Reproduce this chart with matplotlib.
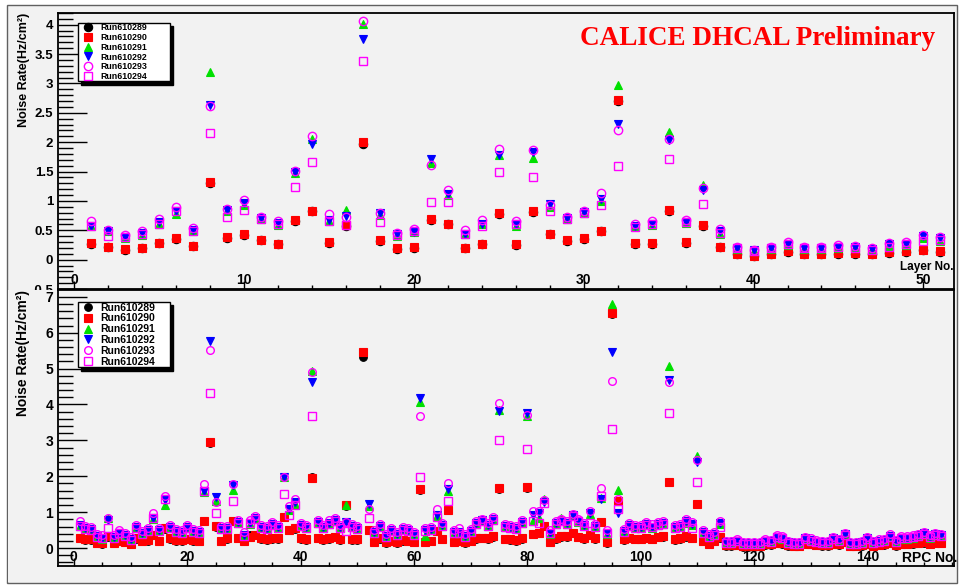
import matplotlib
matplotlib.use('Agg')
import matplotlib.pyplot as plt
from matplotlib.patches import Rectangle
from matplotlib.ticker import MultipleLocator, FuncFormatter

# ---------------- data ----------------
runs = ['Run610289', 'Run610290', 'Run610291', 'Run610292', 'Run610293', 'Run610294']
layers = list(range(1, 52))
rpcs = list(range(1, 154))

layer_610289 = [0.27,0.21,0.17,0.19,0.28,0.35,0.23,1.31,0.37,0.42,
                0.33,0.26,0.66,0.82,0.29,0.58,1.97,0.32,0.18,0.20,
                0.68,0.60,0.19,0.26,0.77,0.25,0.81,0.43,0.32,0.35,
                0.48,2.70,0.27,0.27,0.83,0.29,0.58,0.21,0.09,0.06,
                0.09,0.13,0.09,0.09,0.10,0.09,0.09,0.12,0.13,0.16,
                0.13]
layer_610290 = [0.28,0.22,0.18,0.20,0.29,0.36,0.24,1.33,0.38,0.43,
                0.34,0.27,0.67,0.83,0.30,0.59,2.00,0.33,0.19,0.21,
                0.70,0.61,0.20,0.27,0.79,0.26,0.82,0.44,0.33,0.36,
                0.49,2.71,0.28,0.28,0.84,0.30,0.59,0.22,0.10,0.07,
                0.10,0.14,0.10,0.10,0.11,0.11,0.10,0.13,0.14,0.17,
                0.14]
layer_610291 = [0.57,0.48,0.37,0.42,0.61,0.78,0.49,3.19,0.82,0.93,
                0.69,0.59,1.47,2.05,0.66,0.84,4.01,0.76,0.41,0.47,
                1.65,1.10,0.43,0.60,1.79,0.58,1.73,0.90,0.70,0.80,
                1.00,2.98,0.57,0.59,2.17,0.62,1.27,0.44,0.18,0.14,
                0.18,0.25,0.18,0.18,0.20,0.20,0.17,0.24,0.25,0.37,
                0.31]
layer_610292 = [0.58,0.49,0.39,0.45,0.64,0.82,0.51,2.63,0.85,0.96,
                0.71,0.62,1.50,1.97,0.67,0.74,3.76,0.79,0.43,0.47,
                1.71,1.11,0.44,0.61,1.79,0.60,1.84,0.94,0.71,0.81,
                1.03,2.31,0.58,0.60,2.03,0.64,1.18,0.49,0.20,0.16,
                0.20,0.27,0.19,0.20,0.22,0.22,0.18,0.27,0.27,0.40,
                0.36]
layer_610293 = [0.65,0.51,0.42,0.48,0.70,0.90,0.54,2.62,0.86,1.01,
                0.73,0.65,1.51,2.10,0.77,0.73,4.07,0.79,0.45,0.53,
                1.61,1.19,0.51,0.68,1.88,0.65,1.86,0.93,0.73,0.82,
                1.13,2.20,0.61,0.66,2.05,0.68,1.22,0.52,0.22,0.17,
                0.22,0.30,0.22,0.22,0.25,0.24,0.20,0.28,0.30,0.42,
                0.39]
layer_610294 = [0.57,0.41,0.39,0.43,0.61,0.83,0.49,2.15,0.72,0.84,
                0.70,0.60,1.24,1.66,0.66,0.59,3.39,0.64,0.42,0.48,
                0.99,0.98,0.44,0.57,1.50,0.60,1.41,0.82,0.69,0.80,
                0.93,1.60,0.56,0.60,1.72,0.64,0.95,0.46,0.19,0.15,
                0.19,0.27,0.19,0.19,0.22,0.20,0.17,0.22,0.27,0.31,
                0.33]

rpc_610289 = [0.28,0.23,0.23,0.13,0.12,0.32,0.13,0.19,0.17,0.10,
              0.26,0.19,0.21,0.35,0.19,0.54,0.26,0.21,0.21,0.24,
              0.21,0.19,0.74,2.92,0.60,0.19,0.26,0.74,0.28,0.19,
              0.35,0.35,0.26,0.23,0.26,0.26,0.86,0.49,0.54,0.26,
              0.23,1.98,0.28,0.23,0.26,0.31,0.23,1.18,0.23,0.23,
              5.33,0.49,0.17,0.26,0.15,0.19,0.15,0.21,0.19,0.16,
              1.62,0.17,0.19,0.47,0.24,1.06,0.17,0.19,0.15,0.19,
              0.26,0.28,0.26,0.32,1.65,0.24,0.23,0.21,0.26,1.67,
              0.38,0.42,0.61,0.17,0.26,0.32,0.32,0.42,0.31,0.26,
              0.35,0.26,0.72,0.15,6.53,1.31,0.23,0.28,0.24,0.24,
              0.28,0.24,0.31,0.32,1.84,0.23,0.26,0.32,0.28,1.22,
              0.19,0.11,0.19,0.29,0.07,0.07,0.08,0.04,0.04,0.04,
              0.06,0.09,0.09,0.13,0.12,0.07,0.06,0.06,0.11,0.10,
              0.08,0.07,0.07,0.11,0.09,0.16,0.06,0.06,0.07,0.10,
              0.06,0.08,0.09,0.13,0.07,0.11,0.11,0.12,0.13,0.15,
              0.10,0.14,0.13]
rpc_610290 = [0.29,0.24,0.24,0.14,0.13,0.33,0.14,0.20,0.18,0.11,
              0.27,0.20,0.22,0.36,0.20,0.55,0.27,0.22,0.22,0.25,
              0.22,0.20,0.75,2.96,0.61,0.20,0.27,0.75,0.29,0.20,
              0.32,0.36,0.27,0.24,0.27,0.27,0.87,0.50,0.55,0.27,
              0.24,1.96,0.29,0.24,0.27,0.32,0.24,1.19,0.24,0.24,
              5.45,0.50,0.18,0.27,0.16,0.20,0.16,0.22,0.20,0.18,
              1.64,0.18,0.20,0.48,0.25,1.07,0.18,0.20,0.16,0.20,
              0.27,0.29,0.27,0.33,1.66,0.25,0.24,0.22,0.27,1.69,
              0.39,0.43,0.62,0.18,0.27,0.33,0.33,0.43,0.32,0.27,
              0.36,0.27,0.73,0.16,6.56,1.32,0.24,0.29,0.25,0.25,
              0.29,0.25,0.32,0.33,1.85,0.24,0.27,0.33,0.29,1.23,
              0.20,0.12,0.20,0.30,0.08,0.08,0.09,0.05,0.05,0.05,
              0.07,0.10,0.10,0.14,0.13,0.08,0.07,0.07,0.12,0.11,
              0.09,0.08,0.08,0.12,0.10,0.17,0.07,0.07,0.08,0.11,
              0.07,0.09,0.10,0.14,0.08,0.12,0.12,0.13,0.14,0.16,
              0.11,0.15,0.14]
rpc_610291 = [0.61,0.52,0.49,0.30,0.26,0.85,0.27,0.40,0.33,0.22,
              0.56,0.38,0.47,0.82,0.47,1.20,0.56,0.45,0.41,0.56,
              0.45,0.42,1.55,7.50,1.30,0.52,0.52,1.62,0.70,0.33,
              0.68,0.81,0.56,0.52,0.64,0.56,1.97,1.07,1.24,0.61,
              0.56,4.93,0.70,0.56,0.66,0.75,0.56,1.19,0.58,0.52,
              10.8,1.18,0.42,0.58,0.30,0.47,0.36,0.49,0.47,0.36,
              4.08,0.33,0.49,0.89,0.61,1.60,0.41,0.42,0.31,0.45,
              0.66,0.75,0.61,0.78,3.85,0.58,0.56,0.52,0.70,3.68,
              0.76,0.83,1.38,0.40,0.66,0.85,0.66,0.89,0.73,0.61,
              0.94,0.58,1.40,0.40,6.80,1.63,0.45,0.61,0.56,0.55,
              0.63,0.57,0.63,0.66,5.07,0.56,0.59,0.71,0.63,2.57,
              0.41,0.30,0.36,0.66,0.15,0.15,0.19,0.11,0.11,0.11,
              0.12,0.19,0.17,0.29,0.26,0.15,0.11,0.11,0.25,0.21,
              0.16,0.14,0.14,0.24,0.20,0.36,0.11,0.11,0.14,0.24,
              0.14,0.18,0.20,0.31,0.17,0.26,0.26,0.29,0.33,0.38,
              0.29,0.36,0.33]
rpc_610292 = [0.64,0.55,0.52,0.33,0.29,0.78,0.30,0.43,0.36,0.25,
              0.59,0.41,0.50,0.85,0.50,1.34,0.59,0.48,0.44,0.59,
              0.48,0.45,1.59,5.78,1.43,0.55,0.55,1.75,0.73,0.36,
              0.71,0.84,0.59,0.55,0.67,0.59,1.99,1.10,1.27,0.64,
              0.59,4.62,0.73,0.59,0.69,0.78,0.59,0.73,0.61,0.55,
              10.1,1.23,0.45,0.61,0.33,0.50,0.39,0.52,0.50,0.39,
              4.17,0.50,0.52,0.92,0.64,1.64,0.44,0.45,0.34,0.48,
              0.69,0.78,0.64,0.81,3.83,0.61,0.59,0.55,0.73,3.77,
              0.92,0.98,1.29,0.43,0.69,0.76,0.69,0.92,0.76,0.64,
              0.97,0.61,1.38,0.43,5.47,0.97,0.48,0.64,0.59,0.58,
              0.66,0.60,0.66,0.69,4.68,0.59,0.62,0.74,0.66,2.40,
              0.44,0.33,0.39,0.69,0.17,0.17,0.21,0.13,0.13,0.13,
              0.14,0.21,0.19,0.32,0.29,0.17,0.13,0.13,0.28,0.23,
              0.18,0.16,0.16,0.27,0.22,0.39,0.13,0.13,0.16,0.27,
              0.16,0.20,0.22,0.34,0.19,0.29,0.29,0.32,0.36,0.41,
              0.32,0.39,0.36]
rpc_610293 = [0.75,0.61,0.58,0.39,0.35,0.84,0.36,0.49,0.42,0.31,
              0.65,0.47,0.56,0.97,0.56,1.45,0.65,0.54,0.50,0.65,
              0.54,0.51,1.78,5.52,1.29,0.61,0.61,1.78,0.79,0.45,
              0.77,0.90,0.65,0.61,0.73,0.65,1.98,1.16,1.38,0.70,
              0.65,4.91,0.79,0.65,0.78,0.84,0.65,0.72,0.67,0.61,
              10.9,1.10,0.51,0.67,0.39,0.56,0.45,0.59,0.56,0.45,
              3.68,0.56,0.58,1.08,0.70,1.80,0.50,0.55,0.40,0.54,
              0.75,0.80,0.70,0.87,4.03,0.67,0.65,0.61,0.79,3.70,
              1.04,1.02,1.35,0.49,0.75,0.82,0.75,0.95,0.82,0.70,
              1.03,0.67,1.66,0.49,4.65,1.36,0.54,0.70,0.65,0.64,
              0.72,0.66,0.72,0.75,4.63,0.65,0.68,0.80,0.72,2.45,
              0.50,0.39,0.45,0.75,0.21,0.21,0.25,0.17,0.17,0.17,
              0.18,0.25,0.23,0.36,0.33,0.21,0.17,0.17,0.32,0.27,
              0.22,0.20,0.20,0.31,0.26,0.43,0.17,0.17,0.20,0.31,
              0.20,0.24,0.26,0.38,0.23,0.33,0.33,0.36,0.40,0.45,
              0.36,0.43,0.40]
rpc_610294 = [0.62,0.53,0.50,0.31,0.27,0.55,0.28,0.41,0.34,0.23,
              0.57,0.39,0.48,0.83,0.48,1.38,0.57,0.46,0.42,0.57,
              0.46,0.43,1.60,4.31,0.99,0.53,0.53,1.31,0.71,0.34,
              0.69,0.82,0.57,0.53,0.65,0.57,1.50,0.92,1.20,0.62,
              0.57,3.68,0.71,0.57,0.67,0.76,0.57,0.48,0.59,0.53,
              9.1,0.85,0.43,0.59,0.31,0.48,0.37,0.50,0.48,0.37,
              1.97,0.48,0.50,0.87,0.62,1.31,0.42,0.43,0.32,0.46,
              0.67,0.76,0.62,0.79,3.01,0.59,0.57,0.53,0.71,2.75,
              0.76,0.69,1.26,0.41,0.67,0.74,0.67,0.90,0.74,0.62,
              0.69,0.59,1.45,0.41,3.31,1.09,0.46,0.62,0.57,0.56,
              0.64,0.58,0.64,0.67,3.75,0.57,0.60,0.72,0.55,1.84,
              0.42,0.31,0.37,0.58,0.15,0.15,0.19,0.11,0.11,0.11,
              0.12,0.19,0.17,0.30,0.27,0.15,0.11,0.11,0.26,0.21,
              0.16,0.14,0.14,0.25,0.20,0.37,0.11,0.11,0.14,0.25,
              0.14,0.18,0.20,0.32,0.17,0.27,0.27,0.30,0.34,0.39,
              0.30,0.37,0.34]

layer_series = [layer_610289, layer_610290, layer_610291, layer_610292, layer_610293, layer_610294]
rpc_series = [rpc_610289, rpc_610290, rpc_610291, rpc_610292, rpc_610293, rpc_610294]

# ---------------- styling ----------------
BG = '#f2f2f2'
SANS = 'Liberation Sans'
styles = [
    dict(marker='o', mfc='black', mec='black', mew=0.8),
    dict(marker='s', mfc='#ff0000', mec='#ff0000', mew=0.8),
    dict(marker='^', mfc='#00e000', mec='#00e000', mew=0.8),
    dict(marker='v', mfc='#0000ff', mec='#0000ff', mew=0.8),
    dict(marker='o', mfc='none', mec='#ff00ff', mew=1.0),
    dict(marker='s', mfc='none', mec='#ff00ff', mew=1.0),
]

W, H = 959, 585
fig = plt.figure(figsize=(W / 100, H / 100), dpi=100, facecolor='white')

def fx(px):
    return px / W

def fy(py):
    return 1 - py / H

# outer canvas
fig.patches.append(Rectangle((fx(7), fy(583)), fx(957) - fx(7), fy(5) - fy(583),
                             transform=fig.transFigure, facecolor=BG,
                             edgecolor='#606060', lw=1.0, zorder=-1))

L, R = 58, 954
ax1 = fig.add_axes([fx(L), fy(289), fx(R) - fx(L), fy(13) - fy(289)], zorder=0)
# lower pad covering the area below the upper frame
fig.patches.append(Rectangle((fx(8), fy(582)), fx(956) - fx(8), fy(290) - fy(582),
                             transform=fig.transFigure, facecolor=BG,
                             edgecolor='none', zorder=0.5))
ax2 = fig.add_axes([fx(L), fy(566), fx(R) - fx(L), fy(290) - fy(566)], zorder=1)


def fmt(v, pos):
    s = ('%g' % round(v, 3))
    return s.replace('-', '-')


for ax, xs, series, ms, ylim, xlim, ymaj, ymin, xmaj, xmin, ylab_fs, ytick_fs in [
        (ax1, layers, layer_series, 6.0, (-0.5, 4.2), (-0.94, 51.8), 0.5, 0.1, 10, 2, 9, 9.5),
        (ax2, rpcs, rpc_series, 5.5, (-0.5, 7.19), (-2.8, 155.3), 1, 0.2, 20, 5, 10, 10)]:
    ax.set_facecolor(BG)
    for vals, st, run in zip(series, styles, runs):
        ax.plot(xs, vals, linestyle='none', ms=ms, label=run, **st)
    ax.set_xlim(*xlim)
    ax.set_ylim(*ylim)
    ax.yaxis.set_major_locator(MultipleLocator(ymaj))
    ax.yaxis.set_minor_locator(MultipleLocator(ymin))
    ax.xaxis.set_major_locator(MultipleLocator(xmaj))
    ax.xaxis.set_minor_locator(MultipleLocator(xmin))
    ax.yaxis.set_major_formatter(FuncFormatter(fmt))
    ax.xaxis.set_major_formatter(FuncFormatter(fmt))
    ax.tick_params(axis='y', which='major', direction='in', length=21, width=1.0,
                   labelsize=ytick_fs, pad=3.5)
    ax.tick_params(axis='y', which='minor', direction='in', length=10.5, width=1.0)
    ax.tick_params(axis='x', which='major', direction='in', length=6, width=1.0,
                   labelsize=10, pad=-11.5)
    ax.tick_params(axis='x', which='minor', direction='in', length=3, width=1.0)
    for lab in ax.get_xticklabels() + ax.get_yticklabels():
        lab.set_fontfamily(SANS)
        lab.set_fontweight('bold')
    for sp in ax.spines.values():
        sp.set_linewidth(1.3)
        sp.set_color('black')
    ax.set_ylabel('Noise Rate(Hz/cm\u00b2)', fontfamily=SANS, fontweight='bold',
                  fontsize=ylab_fs, loc='top')
    ax.yaxis.set_label_coords(-0.031, 1.0)

ax1.text(1.0, 0.079, 'Layer No.', transform=ax1.transAxes, ha='right', va='center',
         fontfamily=SANS, fontweight='bold', fontsize=8.5)
ax2.text(1.0035, 0.029, 'RPC No.', transform=ax2.transAxes, ha='right', va='center',
         fontfamily=SANS, fontweight='bold', fontsize=10, clip_on=False)

fig.text(fx(580), fy(45), 'CALICE DHCAL Preliminary', color='#ff0000',
         fontfamily='Liberation Serif', fontweight='bold', fontsize=19.5,
         ha='left', va='baseline', zorder=5)

# legends
for ax, top_px, h_px, fs, hl, htp in [(ax1, 23, 67, 6.4, 2.17, 0.26),
                                      (ax2, 302, 75, 7.5, 1.85, 0.23)]:
    bottom_px = 289 if ax is ax1 else 566
    height_ax = 276
    x0 = (78 - L) / (R - L)
    w = 92 / (R - L)
    ytop = (bottom_px - top_px) / height_ax
    hh = h_px / height_ax
    leg = ax.legend(loc='upper left', bbox_to_anchor=(x0, ytop - hh, w, hh),
                    mode='expand', borderaxespad=0, borderpad=0.05,
                    labelspacing=0.08, handlelength=hl, handletextpad=htp,
                    numpoints=1, fancybox=False, framealpha=1,
                    prop={'family': SANS, 'weight': 'bold', 'size': fs},
                    shadow={'ox': 2.5, 'oy': -2.5, 'facecolor': 'black',
                            'edgecolor': 'black', 'alpha': 1})
    fr = leg.get_frame()
    fr.set_edgecolor('black')
    fr.set_facecolor('white')
    fr.set_linewidth(1.0)

fig.savefig('out.png', dpi=100, facecolor='white')
